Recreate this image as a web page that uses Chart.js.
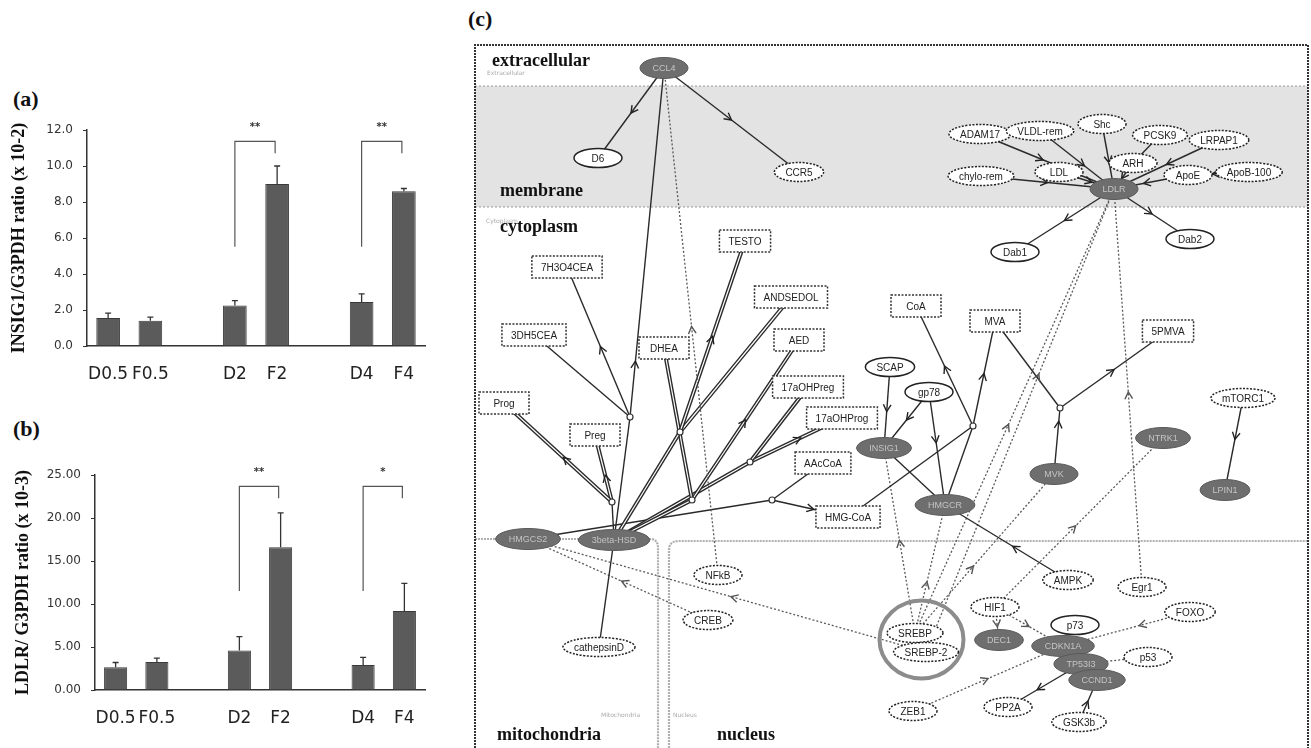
<!DOCTYPE html>
<html>
<head>
<meta charset="utf-8">
<script src="https://cdn.jsdelivr.net/npm/chart.js@4.4.1/dist/chart.umd.min.js"></script>
<style>
  body { margin: 0; background: #fff; width: 1311px; height: 748px; overflow: hidden; position: relative; }
  canvas { position: absolute; }
  .pl { position: absolute; font-family: "Liberation Serif", serif; font-weight: bold; font-size: 22px; color: #111; }
</style>
</head>
<body>
<div class="pl" style="left:13px;top:86px">(a)</div>
<div class="pl" style="left:13px;top:416px">(b)</div>
<div class="pl" style="left:468px;top:6px">(c)</div>
<canvas id="chartA" width="450" height="310" style="left:0;top:80px"></canvas>
<canvas id="chartB" width="450" height="310" style="left:0;top:420px"></canvas>
<canvas id="chartC" width="851" height="748" style="left:460px;top:0"></canvas>
<script>
// ---- bar chart data (a) INSIG1, (b) LDLR ----
const categories = ['D0.5', 'F0.5', '', 'D2', 'F2', '', 'D4', 'F4'];
const insigMean = [1.55, 1.40, null, 2.25, 9.00, null, 2.45, 8.60];
const insigErr  = [0.28, 0.20, null, 0.27, 1.00, null, 0.45, 0.15];
const ldlrMean  = [2.65, 3.25, null, 4.60, 16.60, null, 2.90, 9.20];
const ldlrErr   = [0.55, 0.45, null, 1.60, 4.00, null, 0.90, 3.20];
const sigPairs  = [['D2', 'F2'], ['D4', 'F4']];
const insigSig  = ['**', '**'];
const ldlrSig   = ['**', '*'];

// ---- network data (c) ----
const nodeNames = ['CCL4', 'D6', 'CCR5', 'LDLR', 'ADAM17', 'VLDL-rem', 'Shc', 'PCSK9', 'LRPAP1', 'chylo-rem',
  'LDL', 'ARH', 'ApoE', 'ApoB-100', 'Dab1', 'Dab2', '7H3O4CEA', 'TESTO', 'ANDSEDOL', '3DH5CEA',
  'DHEA', 'AED', 'Prog', 'Preg', '17aOHPreg', '17aOHProg', 'AAcCoA', 'HMG-CoA', 'CoA', 'MVA',
  '5PMVA', 'SCAP', 'gp78', 'INSIG1', 'HMGCR', 'MVK', 'NTRK1', 'mTORC1', 'LPIN1', 'HMGCS2',
  '3beta-HSD', 'NFkB', 'CREB', 'cathepsinD', 'AMPK', 'Egr1', 'HIF1', 'DEC1', 'p73', 'FOXO',
  'CDKN1A', 'TP53I3', 'CCND1', 'p53', 'SREBP', 'SREBP-2', 'ZEB1', 'PP2A', 'GSK3b',
  'j1', 'j2', 'jA', 'jB', 'jC', 'jD', 'jH', 'jM'];
const nodeX = [664, 598, 799, 1114, 980, 1040, 1102, 1160, 1219, 981,
  1059, 1133, 1188, 1249, 1015, 1190, 567, 745, 791, 534,
  664, 799, 504, 595, 808, 842, 823, 848, 916, 995,
  1168, 890, 929, 884, 945, 1054, 1163, 1243, 1225, 528,
  614, 718, 708, 599, 1068, 1142, 995, 999, 1075, 1190,
  1063, 1081, 1097, 1148, 915, 926, 913, 1008, 1079,
  630, 612, 680, 692, 750, 772, 973, 1060];
const nodeY = [68, 158, 172, 189, 134, 131, 124, 135, 140, 176,
  172, 163, 175, 172, 252, 239, 267, 241, 297, 335,
  348, 340, 403, 435, 387, 418, 463, 517, 306, 321,
  331, 367, 392, 448, 505, 474, 438, 398, 490, 539,
  540, 575, 620, 647, 580, 587, 607, 640, 625, 612,
  646, 664, 680, 657, 633, 652, 711, 707, 722,
  417, 502, 432, 500, 462, 500, 426, 408];
// g = measured gene, p = dashed protein, P = solid protein, m = metabolite, j = reaction junction
const nodeKinds = ['g', 'P', 'p', 'g', 'p', 'p', 'p', 'p', 'p', 'p',
  'p', 'p', 'p', 'p', 'P', 'P', 'm', 'm', 'm', 'm',
  'm', 'm', 'm', 'm', 'm', 'm', 'm', 'm', 'm', 'm',
  'm', 'P', 'P', 'g', 'g', 'g', 'g', 'p', 'g', 'g',
  'g', 'p', 'p', 'p', 'p', 'p', 'p', 'g', 'P', 'p',
  'g', 'g', 'g', 'p', 'p', 'p', 'p', 'p', 'p',
  'j', 'j', 'j', 'j', 'j', 'j', 'j', 'j'];

// edges: from, to, style (s solid, S double, d dotted), arrow position along edge
const edgeFrom = ['CCL4', 'CCL4', 'j1', '3beta-HSD', '3DH5CEA', 'j1', 'NFkB', 'j2', 'j2', '3beta-HSD',
  'jA', 'ANDSEDOL', '3beta-HSD', 'DHEA', 'jB', '3beta-HSD', '17aOHPreg', 'jC', '3beta-HSD', 'AAcCoA',
  'jD', 'HMGCS2', 'cathepsinD', 'CREB', 'SREBP-2', 'SCAP', 'gp78', 'gp78', 'INSIG1', 'HMG-CoA',
  'HMGCR', 'jH', 'jH', 'MVA', 'MVK', 'jM', 'AMPK', 'HIF1', 'mTORC1', 'Egr1',
  'SREBP', 'SREBP-2', 'SREBP', 'SREBP', 'SREBP', 'ADAM17', 'VLDL-rem', 'Shc', 'PCSK9', 'LRPAP1',
  'chylo-rem', 'LDL', 'ARH', 'ApoE', 'ApoB-100', 'LDLR', 'LDLR', 'HIF1', 'HIF1', 'FOXO',
  'p53', 'ZEB1', 'TP53I3', 'GSK3b'];
const edgeTo = ['D6', 'CCR5', 'CCL4', 'j1', 'j1', '7H3O4CEA', 'CCL4', 'Prog', 'Preg', 'j2',
  'TESTO', 'jA', 'jA', 'jB', 'AED', 'jB', 'jC', '17aOHProg', 'jC', 'jD',
  'HMG-CoA', 'jD', '3beta-HSD', 'HMGCS2', 'HMGCS2', 'INSIG1', 'INSIG1', 'HMGCR', 'HMGCR', 'jH',
  'jH', 'CoA', 'MVA', 'jM', 'jM', '5PMVA', 'HMGCR', 'NTRK1', 'LPIN1', 'LDLR',
  'LDLR', 'LDLR', 'INSIG1', 'HMGCR', 'MVK', 'LDLR', 'LDLR', 'LDLR', 'ARH', 'LDLR',
  'LDLR', 'LDLR', 'LDLR', 'LDLR', 'ApoE', 'Dab1', 'Dab2', 'DEC1', 'CDKN1A', 'CDKN1A',
  'TP53I3', 'CDKN1A', 'PP2A', 'CCND1'];
const edgeStyle = ['s', 's', 's', 's', 's', 's', 'd', 'S', 'S', 's',
  'S', 'S', 'S', 'S', 'S', 'S', 'S', 'S', 'S', 's',
  's', 's', 's', 'd', 'd', 's', 's', 's', 's', 's',
  's', 's', 's', 's', 's', 's', 's', 'd', 's', 'd',
  'd', 'd', 'd', 'd', 'd', 's', 's', 's', 's', 's',
  's', 's', 's', 's', 's', 's', 's', 'd', 'd', 'd',
  'd', 'd', 's', 's'];
const edgeArrow = [0.5, 0.5, 0.16, null, null, 0.47, 0.49, 0.45, 0.4, null,
  0.5, null, null, null, 0.5, null, null, 0.55, null, null,
  0.55, null, null, 0.48, 0.49, 0.55, 0.5, 0.45, null, null,
  null, 0.5, 0.5, null, 0.8, 0.5, 0.45, 0.48, 0.45, 0.49,
  0.47, 0.6, 0.5, 0.4, 0.42, 0.47, 0.6, 0.6, null, 0.5,
  0.5, 0.6, 0.6, 0.6, 0.6, 0.5, 0.5, 0.6, 0.5, 0.4,
  0.35, 0.5, 0.6, 0.5];

// ---------- bar charts ----------
function barExtras(err, sig) {
  return {
    id: 'barExtras',
    afterDatasetsDraw(chart) {
      const { ctx, scales: { x, y } } = chart;
      const mean = chart.data.datasets[0].data;
      const bars = chart.getDatasetMeta(0).data;
      ctx.save();
      ctx.strokeStyle = '#333';
      ctx.lineWidth = 1.3;
      bars.forEach((bar, i) => {
        if (mean[i] == null) return;
        const y0 = y.getPixelForValue(mean[i]);
        const y1 = y.getPixelForValue(mean[i] + err[i]);
        ctx.beginPath();
        ctx.moveTo(bar.x, y0); ctx.lineTo(bar.x, y1);
        ctx.moveTo(bar.x - 3, y1); ctx.lineTo(bar.x + 3, y1);
        ctx.stroke();
      });
      // significance brackets
      ctx.strokeStyle = '#555';
      ctx.lineWidth = 1.2;
      ctx.fillStyle = '#333';
      ctx.font = 'bold 10px "DejaVu Sans"';
      ctx.textAlign = 'center';
      sigPairs.forEach((p, k) => {
        const xl = x.getPixelForValue(categories.indexOf(p[0]));
        const xr = x.getPixelForValue(categories.indexOf(p[1])) - 2;
        const yt = y.getPixelForValue(y.max * 0.947);
        ctx.beginPath();
        ctx.moveTo(xl, y.getPixelForValue(y.max * 0.46));
        ctx.lineTo(xl, yt); ctx.lineTo(xr, yt);
        ctx.lineTo(xr, y.getPixelForValue(y.max * 0.892));
        ctx.stroke();
        ctx.fillText(sig[k], (xl + xr) / 2, y.getPixelForValue(y.max * 1.0));
      });
      ctx.restore();
    }
  };
}

function makeBars(id, mean, err, sig, yMax, step, digits, title, padTop, axisW, xH, titlePad) {
  return new Chart(document.getElementById(id), {
    type: 'bar',
    data: {
      labels: categories,
      datasets: [{
        data: mean, backgroundColor: '#5b5b5b', borderColor: '#3a3a3a', borderWidth: 1,
        barPercentage: 0.56, categoryPercentage: 1
      }]
    },
    options: {
      responsive: false, animation: false,
      layout: { padding: { top: padTop, right: 25, left: 0, bottom: 0 } },
      plugins: { legend: { display: false }, tooltip: { enabled: false } },
      scales: {
        x: {
          grid: { display: false },
          border: { display: true, color: '#333', width: 1.5 },
          ticks: { color: '#222', font: { family: '"DejaVu Sans"', size: 17 }, padding: 10, autoSkip: false, maxRotation: 0 },
          afterFit: s => { s.height = xH; }
        },
        y: {
          min: 0, max: yMax,
          grid: { display: true, drawOnChartArea: false, drawTicks: true, tickLength: 4, color: '#333' },
          border: { display: true, color: '#333', width: 1.5 },
          ticks: { stepSize: step, color: '#333', font: { family: '"DejaVu Sans"', size: 12 }, padding: 10,
                   callback: v => v.toFixed(digits) },
          title: { display: true, text: title, color: '#111',
                   font: { family: '"Liberation Serif"', size: 18, weight: 'bold' }, padding: { top: titlePad, bottom: 0 } },
          afterFit: s => { s.width = axisW; }
        }
      }
    },
    plugins: [barExtras(err, sig)]
  });
}

makeBars('chartA', insigMean, insigErr, insigSig, 12, 2, 1, 'INSIG1/G3PDH ratio (x 10-2)', 50, 87, 44, 9);
makeBars('chartB', ldlrMean, ldlrErr, ldlrSig, 25, 5, 2, 'LDLR/ G3PDH ratio (x 10-3)', 55, 95, 40, 13);

// ---------- network (c) ----------
const idx = Object.fromEntries(nodeNames.map((n, i) => [n, i]));
const frame = { left: 475, top: 45, right: 1308, bottom: 748, memTop: 86, memBottom: 207, split: 540, mitoRight: 658, nucLeft: 669 };

// Chart.js paints dataset 0 last, so the inner white stroke of a double line goes first
const edgeSets = [];
edgeFrom.forEach((f, i) => {
  const a = idx[f], b = idx[edgeTo[i]];
  const pts = [{ x: nodeX[a], y: nodeY[a] }, { x: nodeX[b], y: nodeY[b] }];
  const base = { data: pts, showLine: true, pointRadius: 0, borderDash: [] };
  if (edgeStyle[i] === 'S') {
    edgeSets.push({ ...base, borderColor: '#ffffff', borderWidth: 1.2 });
    edgeSets.push({ ...base, borderColor: '#2a2a2a', borderWidth: 4 });
  } else if (edgeStyle[i] === 'd') {
    edgeSets.push({ ...base, borderColor: '#5a5a5a', borderWidth: 1.3, borderDash: [2, 2] });
  } else {
    edgeSets.push({ ...base, borderColor: '#2a2a2a', borderWidth: 1.4 });
  }
});
edgeSets.push({ data: nodeNames.map((n, i) => ({ x: nodeX[i], y: nodeY[i] })), pointRadius: 0, showLine: false, borderColor: '#000' });

const netPlugin = {
  id: 'net',
  beforeDatasetsDraw(chart) {
    const { ctx, scales: { x, y } } = chart;
    const X = v => x.getPixelForValue(v), Y = v => y.getPixelForValue(v);
    ctx.save();
    // membrane band
    ctx.fillStyle = '#e3e3e3';
    ctx.fillRect(X(frame.left), Y(frame.memTop), X(frame.right) - X(frame.left), Y(frame.memBottom) - Y(frame.memTop));
    ctx.strokeStyle = '#aaa'; ctx.lineWidth = 1.2; ctx.setLineDash([2, 2]);
    [frame.memTop, frame.memBottom].forEach(v => {
      ctx.beginPath(); ctx.moveTo(X(frame.left), Y(v)); ctx.lineTo(X(frame.right), Y(v)); ctx.stroke();
    });
    // mitochondria / nucleus compartments
    ctx.strokeStyle = '#b0b0b0'; ctx.lineWidth = 2.2; ctx.setLineDash([2, 1]);
    ctx.beginPath();
    ctx.moveTo(X(frame.left), Y(frame.split - 1));
    ctx.lineTo(X(frame.mitoRight - 8), Y(frame.split - 1));
    ctx.quadraticCurveTo(X(frame.mitoRight), Y(frame.split - 1), X(frame.mitoRight), Y(frame.split + 8));
    ctx.lineTo(X(frame.mitoRight), Y(frame.bottom));
    ctx.stroke();
    ctx.beginPath();
    ctx.moveTo(X(frame.nucLeft), Y(frame.bottom));
    ctx.lineTo(X(frame.nucLeft), Y(frame.split + 10));
    ctx.quadraticCurveTo(X(frame.nucLeft), Y(frame.split + 1), X(frame.nucLeft + 10), Y(frame.split + 1));
    ctx.lineTo(X(frame.right), Y(frame.split + 1));
    ctx.stroke();
    // outer frame
    ctx.strokeStyle = '#333'; ctx.lineWidth = 2; ctx.setLineDash([2, 1]);
    ctx.beginPath();
    ctx.moveTo(X(frame.left), Y(frame.bottom)); ctx.lineTo(X(frame.left), Y(frame.top));
    ctx.lineTo(X(frame.right), Y(frame.top)); ctx.lineTo(X(frame.right), Y(frame.bottom));
    ctx.stroke();
    ctx.setLineDash([]);
    // compartment names
    ctx.fillStyle = '#111';
    ctx.font = 'bold 18px "Liberation Serif"';
    ctx.textAlign = 'left'; ctx.textBaseline = 'alphabetic';
    ctx.fillText('extracellular', X(492), Y(66));
    ctx.fillText('membrane', X(500), Y(196));
    ctx.fillText('cytoplasm', X(500), Y(232));
    ctx.fillText('mitochondria', X(497), Y(740));
    ctx.fillText('nucleus', X(717), Y(740));
    ctx.fillStyle = '#aaa';
    ctx.font = '6px "DejaVu Sans"';
    ctx.fillText('Extracellular', X(487), Y(75));
    ctx.fillText('Cytoplasm', X(486), Y(223));
    ctx.fillText('Mitochondria', X(601), Y(717));
    ctx.fillText('Nucleus', X(673), Y(717));
    ctx.restore();
  },
  afterDatasetsDraw(chart) {
    const { ctx, scales: { x, y } } = chart;
    const X = v => x.getPixelForValue(v), Y = v => y.getPixelForValue(v);
    ctx.save();
    // arrow marks on edges
    ctx.lineWidth = 1.4;
    edgeFrom.forEach((f, i) => {
      const t = edgeArrow[i];
      if (t == null) return;
      const a = idx[f], b = idx[edgeTo[i]];
      const x0 = X(nodeX[a]), y0 = Y(nodeY[a]), x1 = X(nodeX[b]), y1 = Y(nodeY[b]);
      const px = x0 + (x1 - x0) * t, py = y0 + (y1 - y0) * t;
      const ang = Math.atan2(y1 - y0, x1 - x0);
      ctx.strokeStyle = edgeStyle[i] === 'd' ? '#555' : '#222';
      ctx.beginPath();
      ctx.moveTo(px - 8 * Math.cos(ang - 0.5), py - 8 * Math.sin(ang - 0.5));
      ctx.lineTo(px, py);
      ctx.lineTo(px - 8 * Math.cos(ang + 0.5), py - 8 * Math.sin(ang + 0.5));
      ctx.stroke();
    });
    // SREBP ring
    const s1 = idx['SREBP'], s2 = idx['SREBP-2'];
    ctx.strokeStyle = '#8c8c8c'; ctx.lineWidth = 4;
    ctx.beginPath();
    ctx.ellipse((X(nodeX[s1]) + X(nodeX[s2])) / 2 + 1, (Y(nodeY[s1]) + Y(nodeY[s2])) / 2 - 3, 42, 39, 0, 0, Math.PI * 2);
    ctx.stroke();
    // nodes
    ctx.textAlign = 'center'; ctx.textBaseline = 'middle';
    nodeNames.forEach((name, i) => {
      const k = nodeKinds[i];
      const cx = X(nodeX[i]), cy = Y(nodeY[i]);
      ctx.font = '10px "Liberation Sans", Arial, sans-serif';
      const tw = ctx.measureText(name).width;
      ctx.setLineDash([]);
      if (k === 'j') {
        ctx.fillStyle = '#fff'; ctx.strokeStyle = '#333'; ctx.lineWidth = 1.2;
        ctx.beginPath(); ctx.arc(cx, cy, 3, 0, Math.PI * 2); ctx.fill(); ctx.stroke();
        return;
      }
      if (k === 'm') {
        const w = Math.max(50, tw + 18), h = 22;
        ctx.fillStyle = '#fff'; ctx.fillRect(cx - w / 2, cy - h / 2, w, h);
        ctx.strokeStyle = '#333'; ctx.lineWidth = 1.5; ctx.setLineDash([2, 1.5]);
        ctx.strokeRect(cx - w / 2, cy - h / 2, w, h);
        ctx.setLineDash([]);
        ctx.fillStyle = '#222'; ctx.fillText(name, cx, cy + 1);
        return;
      }
      const rx = Math.max(24, tw / 2 + 11), ry = k === 'g' ? 10.5 : 9.5;
      ctx.beginPath(); ctx.ellipse(cx, cy, rx, ry, 0, 0, Math.PI * 2);
      if (k === 'g') {
        ctx.fillStyle = '#6e6e6e'; ctx.fill();
        ctx.strokeStyle = '#5a5a5a'; ctx.lineWidth = 1; ctx.stroke();
        ctx.fillStyle = '#c4c4c4'; ctx.font = '9px "Liberation Sans", Arial, sans-serif';
        ctx.fillText(name, cx, cy + 1);
      } else {
        ctx.fillStyle = '#fff'; ctx.fill();
        ctx.strokeStyle = '#222'; ctx.lineWidth = 1.5;
        if (k === 'p') ctx.setLineDash([2, 1.5]);
        ctx.stroke(); ctx.setLineDash([]);
        ctx.fillStyle = '#222'; ctx.fillText(name, cx, cy + 1);
      }
    });
    ctx.restore();
  }
};

new Chart(document.getElementById('chartC'), {
  type: 'scatter',
  data: { datasets: edgeSets },
  options: {
    responsive: false, animation: false,
    layout: { padding: 0 },
    plugins: { legend: { display: false }, tooltip: { enabled: false } },
    scales: {
      x: { type: 'linear', min: 460, max: 1311, display: false },
      y: { type: 'linear', min: 0, max: 748, reverse: true, display: false }
    }
  },
  plugins: [netPlugin]
});
</script>
</body>
</html>
